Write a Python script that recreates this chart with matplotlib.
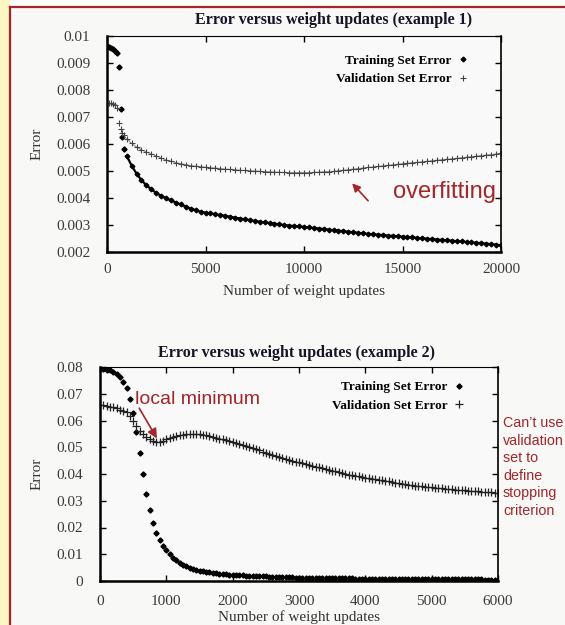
import numpy as np
import matplotlib
matplotlib.use("Agg")
import matplotlib.pyplot as plt
from matplotlib.patches import Rectangle
from matplotlib.lines import Line2D

# ---------- data: example 1 ----------
x1_early = [0, 100, 200, 300, 400, 500, 600, 700, 780, 850]
train1_early = [0.00962, 0.00960, 0.00957, 0.00952, 0.00945, 0.00936,
                0.00884, 0.00730, 0.00625, 0.00580]
val1_early = [0.00752, 0.00752, 0.00751, 0.00749, 0.00745, 0.00735,
              0.00679, 0.00654, 0.00640, 0.00632]
x1_late = np.arange(1000, 20001, 250)
train1_late = [
    0.00556, 0.00520, 0.00490, 0.00466, 0.00447, 0.00432, 0.00419, 0.00408,
    0.00399, 0.00391, 0.00383, 0.00376, 0.00368, 0.00361, 0.00355, 0.00349,
    0.00346, 0.00343, 0.00340, 0.00337, 0.00334, 0.00331, 0.00327, 0.00324,
    0.00321, 0.00318, 0.00315, 0.00312, 0.00310, 0.00307, 0.00305, 0.00302,
    0.00300, 0.00298, 0.00296, 0.00295, 0.00293, 0.00291, 0.00289, 0.00287,
    0.00285, 0.00283, 0.00281, 0.00279, 0.00277, 0.00275, 0.00273, 0.00271,
    0.00269, 0.00267, 0.00266, 0.00264, 0.00263, 0.00261, 0.00260, 0.00258,
    0.00257, 0.00255, 0.00254, 0.00252, 0.00251, 0.00249, 0.00248, 0.00246,
    0.00245, 0.00243, 0.00242, 0.00240, 0.00239, 0.00237, 0.00236, 0.00234,
    0.00233, 0.00231, 0.00229, 0.00227, 0.00225]
val1_late = [
    0.00620, 0.00602, 0.00589, 0.00578, 0.00571, 0.00563, 0.00556, 0.00548,
    0.00541, 0.00536, 0.00531, 0.00527, 0.00524, 0.00520, 0.00518, 0.00516,
    0.00514, 0.00512, 0.00511, 0.00509, 0.00507, 0.00506, 0.00505, 0.00503,
    0.00502, 0.00501, 0.00500, 0.00499, 0.00498, 0.00497, 0.00496, 0.00495,
    0.00495, 0.00494, 0.00494, 0.00494, 0.00494, 0.00494, 0.00495, 0.00496,
    0.00497, 0.00498, 0.00499, 0.00501, 0.00503, 0.00505, 0.00507, 0.00509,
    0.00511, 0.00513, 0.00515, 0.00517, 0.00519, 0.00521, 0.00523, 0.00525,
    0.00527, 0.00529, 0.00531, 0.00532, 0.00534, 0.00536, 0.00538, 0.00540,
    0.00542, 0.00544, 0.00545, 0.00547, 0.00549, 0.00551, 0.00553, 0.00555,
    0.00557, 0.00559, 0.00561, 0.00563, 0.00566]

# ---------- data: example 2 ----------
x2 = np.arange(0, 6001, 50)
train2 = [
    0.0793, 0.0792, 0.0790, 0.0787, 0.0782, 0.0774, 0.0762, 0.0745, 0.0720,
    0.0679, 0.0627, 0.0558, 0.0480, 0.0399, 0.0324, 0.0264, 0.0217, 0.0181,
    0.0152, 0.0132, 0.0115, 0.0100, 0.0087, 0.0077, 0.0068, 0.0061, 0.0055,
    0.0050, 0.0046, 0.0042, 0.0039, 0.0036, 0.0034, 0.0032, 0.0030, 0.0029,
    0.0027, 0.0026, 0.0025, 0.0024, 0.0023, 0.0022, 0.0021, 0.0021, 0.0020,
    0.0019, 0.0019, 0.0018, 0.0018, 0.0017, 0.0017, 0.0016, 0.0016, 0.0015,
    0.0015, 0.0015, 0.0014, 0.0014, 0.0014, 0.0013, 0.0013, 0.0013, 0.0012,
    0.0012, 0.0012, 0.0012, 0.0011, 0.0011, 0.0011, 0.0011, 0.0011, 0.0010,
    0.0010, 0.0010, 0.0010, 0.0010, 0.0010, 0.0009, 0.0009, 0.0009, 0.0009,
    0.0009, 0.0009, 0.0009, 0.0009, 0.0009, 0.0008, 0.0008, 0.0008, 0.0008,
    0.0008, 0.0008, 0.0008, 0.0008, 0.0008, 0.0008, 0.0007, 0.0007, 0.0007,
    0.0007, 0.0007, 0.0007, 0.0007, 0.0007, 0.0007, 0.0007, 0.0006, 0.0006,
    0.0006, 0.0006, 0.0006, 0.0006, 0.0006, 0.0006, 0.0006, 0.0006, 0.0005,
    0.0005, 0.0005, 0.0005, 0.0005]
val2 = [
    0.0658, 0.0657, 0.0655, 0.0652, 0.0649, 0.0645, 0.0641, 0.0636, 0.0630,
    0.0615, 0.0597, 0.0578, 0.0562, 0.0549, 0.0539, 0.0531, 0.0525, 0.0521,
    0.0521, 0.0524, 0.0529, 0.0534, 0.0538, 0.0542, 0.0545, 0.0547, 0.0549,
    0.0550, 0.0550, 0.0549, 0.0548, 0.0546, 0.0544, 0.0541, 0.0538, 0.0535,
    0.0532, 0.0529, 0.0526, 0.0523, 0.0520, 0.0516, 0.0512, 0.0508, 0.0504,
    0.0500, 0.0496, 0.0492, 0.0488, 0.0484, 0.0480, 0.0476, 0.0472, 0.0468,
    0.0464, 0.0460, 0.0456, 0.0452, 0.0449, 0.0446, 0.0443, 0.0440, 0.0437,
    0.0434, 0.0431, 0.0428, 0.0425, 0.0422, 0.0419, 0.0416, 0.0413, 0.0410,
    0.0407, 0.0404, 0.0401, 0.0398, 0.0395, 0.0393, 0.0391, 0.0388, 0.0386,
    0.0384, 0.0382, 0.0380, 0.0378, 0.0376, 0.0374, 0.0372, 0.0370, 0.0368,
    0.0366, 0.0364, 0.0362, 0.0360, 0.0359, 0.0357, 0.0356, 0.0354, 0.0353,
    0.0351, 0.0350, 0.0349, 0.0348, 0.0347, 0.0345, 0.0344, 0.0343, 0.0342,
    0.0341, 0.0340, 0.0339, 0.0338, 0.0337, 0.0336, 0.0335, 0.0334, 0.0333,
    0.0332, 0.0331, 0.0330, 0.0328]

yticks1 = [0.002, 0.003, 0.004, 0.005, 0.006, 0.007, 0.008, 0.009, 0.01]
yticklabels1 = ["0.002", "0.003", "0.004", "0.005", "0.006", "0.007",
                "0.008", "0.009", "0.01"]
xticks1 = [0, 5000, 10000, 15000, 20000]
yticks2 = [0, 0.01, 0.02, 0.03, 0.04, 0.05, 0.06, 0.07, 0.08]
yticklabels2 = ["0", "0.01", "0.02", "0.03", "0.04", "0.05", "0.06",
                "0.07", "0.08"]
xticks2 = [0, 1000, 2000, 3000, 4000, 5000, 6000]

SERIF = "Liberation Serif"
SANS = "Liberation Sans"
RED = "#a3262a"
W, H = 565, 625

fig = plt.figure(figsize=(W / 100, H / 100), dpi=100)
fig.patch.set_facecolor("#f8f8f7")

# slide decoration: yellow strip and red frame
fig.add_artist(Rectangle((0, 0), 10 / W, 1, transform=fig.transFigure,
                         color="#fcf5c4", zorder=0))
fig.add_artist(Rectangle((10 / W, 1 - 7 / H), 1, 7 / H,
                         transform=fig.transFigure, color="#fdfdf8", zorder=0))
fig.add_artist(Line2D([10 / W, 10 / W], [0, 1 - 7 / H],
                      transform=fig.transFigure, color=RED, lw=1.6))
fig.add_artist(Line2D([10 / W, 1], [1 - 7 / H, 1 - 7 / H],
                      transform=fig.transFigure, color=RED, lw=1.6))


def style_axes(ax, xticks, yticks, yticklabels, xpad, ypad):
    ax.set_facecolor("#f9f9f9")
    ax.set_xticks(xticks)
    ax.set_xticklabels([str(t) for t in xticks])
    ax.set_yticks(yticks)
    ax.set_yticklabels(yticklabels)
    ax.tick_params(direction="in", length=4, width=1, top=True, right=True,
                   labelsize=11, labelcolor="#3a3a3a")
    ax.tick_params(axis="x", pad=xpad)
    ax.tick_params(axis="y", pad=ypad)
    for lab in ax.get_xticklabels() + ax.get_yticklabels():
        lab.set_family(SERIF)
    ax.spines["left"].set_linewidth(1.8)
    ax.spines["bottom"].set_linewidth(1.8)
    ax.spines["right"].set_linewidth(1.2)
    ax.spines["top"].set_linewidth(0.8)


LEG_PROP = {"family": SERIF, "weight": "bold", "size": 9.5}

# ---------- example 1 ----------
ax1 = fig.add_axes([107 / W, 1 - 252 / H, 394 / W, 216 / H])
# sparse early points (markers only), dense later part drawn as a band
ax1.plot(x1_early, train1_early, ls="none", color="black", marker="D",
         ms=2.6)
ax1.plot(x1_late, train1_late, color="black", lw=1.6, marker="D", ms=2.4,
         label="Training Set Error")
ax1.plot(x1_early, val1_early, ls="none", marker="+", ms=5, mew=0.8,
         mec="#444444")
ax1.plot(x1_late, val1_late, color="#777777", lw=0.6, marker="+", ms=5,
         mew=0.8, mec="#444444", label="Validation Set Error")
ax1.set_xlim(0, 20000)
ax1.set_ylim(0.002, 0.01)
style_axes(ax1, xticks1, yticks1, yticklabels1, 8, 12)
ax1.set_xlabel("Number of weight updates", family=SERIF, fontsize=11,
               color="#333333")
ax1.xaxis.set_label_coords(0.5, -0.15)
ax1.set_ylabel("Error", family=SERIF, fontsize=11, color="#333333")
ax1.yaxis.set_label_coords(-0.162, 0.5)
fig.text(334 / W, 1 - 20 / H, "Error versus weight updates (example 1)",
         family=SERIF, fontweight="bold", fontsize=11.5, color="#151525",
         ha="center", va="center")
leg1 = ax1.legend(loc="upper right", bbox_to_anchor=(0.945, 0.97),
                  frameon=False, markerfirst=False, handlelength=0.6,
                  handletextpad=0.6, labelspacing=0.5, prop=LEG_PROP)
for h in leg1.legend_handles:
    h.set_linestyle("none")

ax1.annotate("", xy=(12350, 0.00462), xytext=(13350, 0.00382),
             arrowprops=dict(arrowstyle="-|>", color=RED, lw=1.2,
                             mutation_scale=12))
ax1.text(14520, 0.00422, "overfitting", family=SANS, fontsize=17,
         color=RED, ha="left", va="center")

# ---------- example 2 ----------
ax2 = fig.add_axes([100 / W, 1 - 581 / H, 398 / W, 214 / H])
ax2.plot(x2, train2, ls="none", color="black", marker="D", ms=2.6,
         label="Training Set Error")
ax2.plot(x2, val2, ls="none", marker="+", ms=6, mew=0.9, mec="#222222",
         label="Validation Set Error")
ax2.set_xlim(0, 6000)
ax2.set_ylim(0, 0.08)
style_axes(ax2, xticks2, yticks2, yticklabels2, 10, 12)
ax2.set_xlabel("Number of weight updates", family=SERIF, fontsize=11,
               color="#333333")
ax2.xaxis.set_label_coords(0.5, -0.138)
ax2.set_ylabel("Error", family=SERIF, fontsize=11, color="#333333")
ax2.yaxis.set_label_coords(-0.141, 0.5)
fig.text(297 / W, 1 - 353 / H, "Error versus weight updates (example 2)",
         family=SERIF, fontweight="bold", fontsize=11.5, color="#151525",
         ha="center", va="center")
ax2.legend(loc="upper right", bbox_to_anchor=(0.942, 0.99),
           frameon=False, markerfirst=False, handlelength=0.6,
           handletextpad=0.6, labelspacing=0.5, prop=LEG_PROP)

ax2.annotate("", xy=(880, 0.0524), xytext=(570, 0.0655),
             arrowprops=dict(arrowstyle="-|>", color=RED, lw=1.2,
                             mutation_scale=14))
ax2.text(530, 0.0680, "local minimum", family=SANS, fontsize=14,
         color=RED, ha="left", va="center")

fig.text(503 / W, 1 - 416 / H,
         "Can\u2019t use\nvalidation\nset to\ndefine\nstopping\ncriterion",
         family=SANS, fontsize=10.3, color=RED, ha="left", va="top",
         linespacing=1.32)

fig.savefig("out.png", dpi=100, facecolor=fig.get_facecolor())
